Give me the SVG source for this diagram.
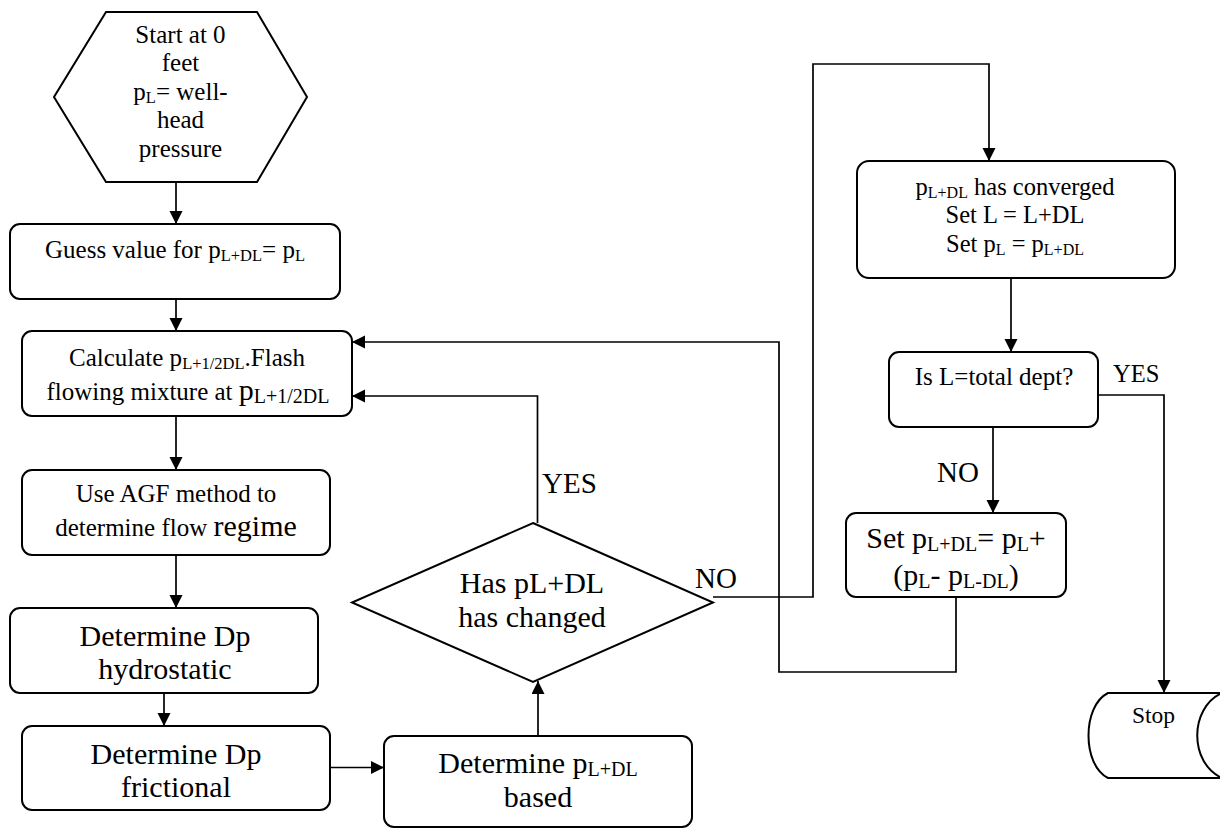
<svg xmlns="http://www.w3.org/2000/svg" width="1220" height="829" viewBox="0 0 1220 829" font-family="'Liberation Serif', 'Times New Roman', 'DejaVu Serif', serif">
<style>
.shape{fill:#fff;stroke:#000;stroke-width:2}
.ln{fill:none;stroke:#000;stroke-width:1.7}
text{font-family:'Liberation Serif','Times New Roman','DejaVu Serif',serif;fill:#000}
.c{text-anchor:middle}
.s25{font-size:25px}
.s24{font-size:24.5px}
.s30{font-size:30px}
.s29{font-size:29px}
</style>
<defs>
<marker id="ah" markerUnits="userSpaceOnUse" markerWidth="14" markerHeight="14" refX="13" refY="6.5" orient="auto">
<path d="M0,0 L13,6.5 L0,13 z" fill="#000"/>
</marker>
</defs>
<rect width="1220" height="829" fill="#fff"/>
<g id="connectors">
<line class="ln" x1="176" y1="182" x2="176" y2="224" marker-end="url(#ah)"/>
<line class="ln" x1="176" y1="299" x2="176" y2="331" marker-end="url(#ah)"/>
<line class="ln" x1="176" y1="416" x2="176" y2="470" marker-end="url(#ah)"/>
<line class="ln" x1="176" y1="555" x2="176" y2="608" marker-end="url(#ah)"/>
<line class="ln" x1="164" y1="693" x2="164" y2="726" marker-end="url(#ah)"/>
<line class="ln" x1="330" y1="767.5" x2="384" y2="767.5" marker-end="url(#ah)"/>
<line class="ln" x1="538" y1="736" x2="538" y2="681" marker-end="url(#ah)"/>
<polyline class="ln" points="537.5,523 537.5,396 352,396" marker-end="url(#ah)"/>
<polyline class="ln" points="713,597 813,597 813,64 989,64 989,161" marker-end="url(#ah)"/>
<line class="ln" x1="1011" y1="278" x2="1011" y2="352" marker-end="url(#ah)"/>
<line class="ln" x1="993" y1="413" x2="993" y2="513" marker-end="url(#ah)"/>
<polyline class="ln" points="956,597 956,672 779,672 779,342 352,342" marker-end="url(#ah)"/>
<polyline class="ln" points="1098,395 1164,395 1164,693" marker-end="url(#ah)"/>
<text class="s29" x="542" y="493" font-family="'Liberation Serif', serif">YES</text>
<text class="s29" x="695" y="588" font-family="'Liberation Serif', serif">NO</text>
<text class="s29" x="937" y="482" font-family="'Liberation Serif', serif">NO</text>
<text class="s24" x="1113" y="382" font-family="'Liberation Serif', serif">YES</text>
</g>
<g id="n-start" font-family="'Liberation Serif', serif">
<polygon class="shape" points="106,12 257,12 307,97 257,182 106,182 54,97"/>
<text class="s25 c" x="180.5" y="42.5">Start at 0</text>
<text class="s25 c" x="180.5" y="71">feet</text>
<text class="s25 c" x="180.5" y="99.5">p<tspan font-size="16.5" dy="3">L</tspan><tspan dy="-3">= well-</tspan></text>
<text class="s25 c" x="180.5" y="128">head</text>
<text class="s25 c" x="180.5" y="156.5">pressure</text>
</g>
<g id="n-guess" font-family="'Liberation Serif', serif">
<rect class="shape" x="10" y="224" width="330" height="75" rx="10"/>
<text class="s25 c" x="175" y="258">Guess value for p<tspan font-size="16.5" dy="3">L+DL</tspan><tspan dy="-3">= p</tspan><tspan font-size="16.5" dy="3">L</tspan></text>
</g>
<g id="n-calc" font-family="'Liberation Serif', serif">
<rect class="shape" x="22" y="331" width="330" height="85" rx="10"/>
<text class="s25 c" x="187" y="366">Calculate p<tspan font-size="16.5" dy="3">L+1/2DL</tspan><tspan dy="-3">.Flash</tspan></text>
<text class="s25 c" x="188" y="400">flowing mixture at <tspan font-size="30">p</tspan><tspan font-size="20" dy="3">L+1/2DL</tspan></text>
</g>
<g id="n-agf" font-family="'Liberation Serif', serif">
<rect class="shape" x="22" y="470" width="308" height="85" rx="10"/>
<text class="s25 c" x="176" y="502">Use AGF method to</text>
<text class="s25 c" x="176" y="536">determine flow <tspan font-size="30">regime</tspan></text>
</g>
<g id="n-hydro" font-family="'Liberation Serif', serif">
<rect class="shape" x="10" y="608" width="308" height="85" rx="10"/>
<text class="s30 c" x="165" y="646">Determine Dp</text>
<text class="s30 c" x="165" y="679">hydrostatic</text>
</g>
<g id="n-fric" font-family="'Liberation Serif', serif">
<rect class="shape" x="22" y="726" width="308" height="84" rx="10"/>
<text class="s30 c" x="176" y="764">Determine Dp</text>
<text class="s30 c" x="176" y="797">frictional</text>
</g>
<g id="n-based" font-family="'Liberation Serif', serif">
<rect class="shape" x="384" y="736" width="308" height="91" rx="10"/>
<text class="s30 c" x="538" y="773">Determine p<tspan font-size="20" dy="3">L+DL</tspan></text>
<text class="s30 c" x="538" y="807">based</text>
</g>
<g id="n-changed" font-family="'Liberation Serif', serif">
<polygon class="shape" points="533,523 713,602.5 533,682 352,602.5"/>
<text class="s30 c" x="532" y="593">Has pL+DL</text>
<text class="s30 c" x="532" y="627">has changed</text>
</g>
<g id="n-converged" font-family="'Liberation Serif', serif">
<rect class="shape" x="857" y="161" width="318" height="117" rx="12"/>
<text class="s24 c" x="1015" y="195">p<tspan font-size="16" dy="3">L+DL</tspan><tspan dy="-3"> has converged</tspan></text>
<text class="s24 c" x="1015" y="223">Set L = L+DL</text>
<text class="s24 c" x="1015" y="252">Set p<tspan font-size="16" dy="3">L</tspan><tspan dy="-3"> = p</tspan><tspan font-size="16" dy="3">L+DL</tspan></text>
</g>
<g id="n-total" font-family="'Liberation Serif', serif">
<rect class="shape" x="889" y="352" width="209" height="75" rx="10"/>
<text class="s25 c" x="994" y="385">Is L=total dept?</text>
</g>
<g id="n-set" font-family="'Liberation Serif', serif">
<rect class="shape" x="846" y="513" width="220" height="84" rx="10"/>
<text class="s30 c" x="956" y="548">Set p<tspan font-size="20" dy="3">L+DL</tspan><tspan dy="-3">= p</tspan><tspan font-size="20" dy="3">L</tspan><tspan dy="-3">+</tspan></text>
<text class="s30 c" x="956" y="585">(p<tspan font-size="20" dy="3">L</tspan><tspan dy="-3">- p</tspan><tspan font-size="20" dy="3">L-DL</tspan><tspan dy="-3">)</tspan></text>
</g>
<g id="n-stop" font-family="'Liberation Serif', serif">
<path class="shape" d="M1108,693 L1222,693 C1189,708 1189,763 1222,778 L1108,778 C1082,765 1082,706 1108,693 Z"/>
<text class="c" style="font-size:23.5px" x="1153.5" y="723">Stop</text>
</g>
</svg>
